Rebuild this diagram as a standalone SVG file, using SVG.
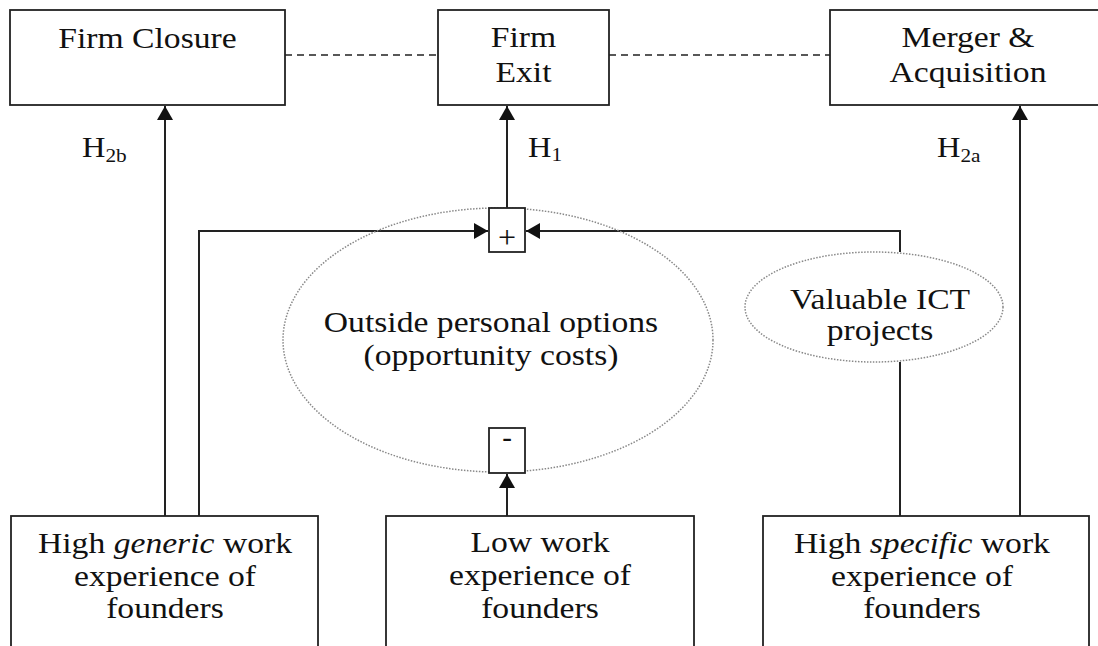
<svg xmlns="http://www.w3.org/2000/svg" width="1098" height="646" viewBox="0 0 1098 646">
<style>
.box{fill:#fff;stroke:#222;stroke-width:1.8}
.ell{fill:none;stroke:#888;stroke-width:1.5;stroke-dasharray:1.5 1.5}
.t{font-family:"Liberation Serif","Times New Roman",serif;font-size:29px;fill:#111;text-anchor:middle}
.s{font-family:"Liberation Serif","Times New Roman",serif;fill:#111}
.c{fill:none;stroke:#222;stroke-width:2}
.d{fill:none;stroke:#222;stroke-width:1.5;stroke-dasharray:7 5}
</style>
<defs>
<marker id="ah" viewBox="0 0 14 16" refX="14" refY="8" markerWidth="14" markerHeight="16" markerUnits="userSpaceOnUse" orient="auto">
<path d="M0,0 L14,8 L0,16 Z" fill="#111"/>
</marker>
</defs>
<g id="connectors">
<line class="d" x1="285" y1="55" x2="438" y2="55"/>
<line class="d" x1="609" y1="55" x2="830" y2="55"/>
<line class="c" x1="165" y1="516" x2="165" y2="106" marker-end="url(#ah)"/>
<line class="c" x1="507" y1="208" x2="507" y2="106" marker-end="url(#ah)"/>
<line class="c" x1="1020" y1="516" x2="1020" y2="106" marker-end="url(#ah)"/>
<polyline class="c" points="199,516 199,231 488,231" marker-end="url(#ah)"/>
<polyline class="c" points="900,252 900,231 526,231" marker-end="url(#ah)"/>
<line class="c" x1="900" y1="362" x2="900" y2="516"/>
<line class="c" x1="507" y1="516" x2="507" y2="474" marker-end="url(#ah)"/>
</g>
<g id="firm-closure">
<rect class="box" x="10" y="10" width="275" height="95"/>
<text class="t" transform="translate(147.5,48) scale(1.16,1)">Firm Closure</text>
</g>
<g id="firm-exit">
<rect class="box" x="438" y="10" width="171" height="95"/>
<text class="t" transform="translate(523.5,47) scale(1.16,1)">Firm</text>
<text class="t" transform="translate(523.5,82) scale(1.16,1)">Exit</text>
</g>
<g id="merger">
<rect class="box" x="830" y="10" width="280" height="95"/>
<text class="t" transform="translate(968,47) scale(1.16,1)">Merger &amp;</text>
<text class="t" transform="translate(968,82) scale(1.16,1)">Acquisition</text>
</g>
<g id="labels">
<text class="s" font-size="29" transform="translate(82,157) scale(1.12,1)">H<tspan font-size="19" dy="5">2b</tspan></text>
<text class="s" font-size="29" transform="translate(528,157) scale(1.12,1)">H<tspan font-size="19" dy="4">1</tspan></text>
<text class="s" font-size="29" transform="translate(937,157) scale(1.12,1)">H<tspan font-size="19" dy="5">2a</tspan></text>
</g>
<g id="outside-options">
<ellipse class="ell" cx="498" cy="340" rx="215" ry="132"/>
<text class="t" transform="translate(491,332) scale(1.16,1)">Outside personal options</text>
<text class="t" transform="translate(491,365) scale(1.16,1)">(opportunity costs)</text>
</g>
<g id="plus">
<rect class="box" x="489" y="208" width="36" height="44"/>
<text class="t" style="font-size:32px" x="507" y="248">+</text>
</g>
<g id="minus">
<rect class="box" x="489" y="428" width="36" height="45"/>
<text class="t" style="font-size:29px" x="507" y="447">-</text>
</g>
<g id="ict">
<ellipse class="ell" cx="874" cy="307" rx="129" ry="55"/>
<text class="t" transform="translate(880,309) scale(1.16,1)">Valuable ICT</text>
<text class="t" transform="translate(880,340) scale(1.16,1)">projects</text>
</g>
<g id="generic">
<rect class="box" x="11" y="516" width="307" height="140"/>
<text class="t" transform="translate(165,553) scale(1.16,1)">High <tspan font-style="italic">generic</tspan> work</text>
<text class="t" transform="translate(165,586) scale(1.16,1)">experience of</text>
<text class="t" transform="translate(165,618) scale(1.16,1)">founders</text>
</g>
<g id="low">
<rect class="box" x="386" y="516" width="308" height="140"/>
<text class="t" transform="translate(540,552) scale(1.16,1)">Low work</text>
<text class="t" transform="translate(540,585) scale(1.16,1)">experience of</text>
<text class="t" transform="translate(540,618) scale(1.16,1)">founders</text>
</g>
<g id="specific">
<rect class="box" x="763" y="516" width="326" height="140"/>
<text class="t" transform="translate(922,553) scale(1.16,1)">High <tspan font-style="italic">specific</tspan> work</text>
<text class="t" transform="translate(922,586) scale(1.16,1)">experience of</text>
<text class="t" transform="translate(922,618) scale(1.16,1)">founders</text>
</g>
</svg>
